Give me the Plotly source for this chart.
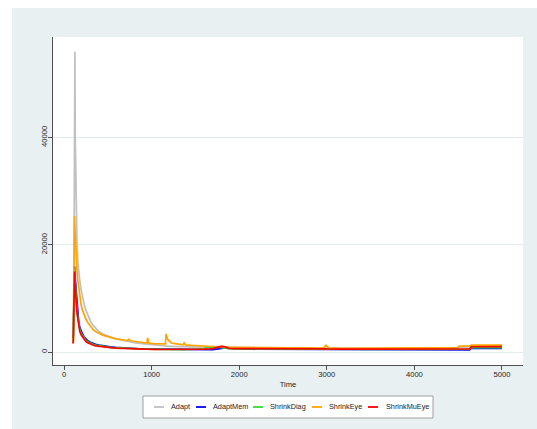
import plotly.graph_objects as go

# Shared time grid (iterations) for all five estimators
TIME = [
    100, 106, 112, 116, 120, 124, 128, 134, 140, 148,
    158, 168, 180, 195, 210, 230, 250, 275, 300, 330,
    360, 400, 440, 480, 530, 590, 650, 720, 740, 760,
    800, 860, 920, 945, 955, 965, 1020, 1080, 1140, 1158,
    1164, 1185, 1230, 1300, 1360, 1372, 1385, 1450, 1520, 1600,
    1650, 1700, 1760, 1800, 1840, 1880, 1950, 2050, 2150, 2250,
    2350, 2450, 2550, 2650, 2750, 2850, 2960, 2990, 3020, 3150,
    3300, 3450, 3600, 3750, 3900, 4050, 4200, 4350, 4490, 4510,
    4630, 4650, 4750, 4850, 4950, 5000,
]

ADAPT = [
    3000, 4000, 8000, 20000, 42000, 56000, 40000, 30000, 25000, 20000,
    16800, 14900, 13200, 11600, 10300, 8900, 7800, 6700, 5800, 5000,
    4400, 3800, 3400, 3100, 2800, 2500, 2250, 1950, 1900, 1850,
    1750, 1620, 1500, 1460, 1450, 1430, 1300, 1200, 1120, 1100,
    1100, 1080, 1050, 1000, 980, 970, 960, 930, 910, 890,
    880, 870, 860, 850, 840, 830, 820, 800, 790, 780,
    770, 760, 750, 740, 730, 720, 720, 720, 710, 700,
    700, 690, 690, 690, 700, 700, 710, 720, 730, 900,
    920, 1050, 1060, 1060, 1070, 1070,
]

ADAPT_MEM = [
    2600, 3200, 9000, 15800, 16000, 14500, 13600, 12600, 11300, 8800,
    7000, 5600, 4600, 3900, 3400, 2800, 2400, 2050, 1800, 1600,
    1420, 1300, 1180, 1080, 980, 880, 790, 700, 690, 670,
    640, 610, 590, 580, 570, 570, 550, 540, 520, 520,
    520, 510, 500, 490, 480, 480, 470, 460, 450, 450,
    440, 460, 500, 650, 750, 700, 560, 520, 510, 500,
    490, 480, 470, 460, 470, 450, 420, 420, 410, 400,
    390, 380, 380, 370, 370, 380, 380, 370, 380, 380,
    390, 680, 690, 680, 690, 690,
]

SHRINK_DIAG = [
    2000, 2500, 8500, 15000, 15500, 13800, 12500, 11200, 10000, 8000,
    6300, 5100, 4200, 3500, 3100, 2550, 2150, 1850, 1600, 1430,
    1280, 1160, 1060, 970, 880, 800, 720, 650, 640, 620,
    600, 570, 550, 540, 540, 530, 510, 500, 490, 490,
    480, 480, 470, 470, 470, 460, 460, 470, 500, 650,
    950, 980, 900, 800, 700, 620, 600, 580, 570, 560,
    560, 550, 550, 540, 540, 530, 530, 530, 520, 510,
    510, 500, 500, 500, 510, 510, 520, 520, 530, 530,
    540, 820, 830, 820, 830, 830,
]

SHRINK_EYE = [
    1800, 2000, 14000, 25000, 25300, 23000, 21000, 19000, 17500, 15200,
    13300, 11800, 10300, 8800, 7800, 6800, 6100, 5400, 4800, 4200,
    3800, 3450, 3150, 2950, 2700, 2450, 2300, 2150, 2350, 2100,
    2000, 1850, 1700, 1650, 2650, 1680, 1560, 1480, 1430, 1500,
    3350, 2300, 1650, 1420, 1330, 1800, 1340, 1250, 1180, 1100,
    1050, 1000, 980, 1050, 930, 880, 860, 840, 830, 800,
    820, 780, 800, 750, 760, 720, 740, 1250, 760, 700,
    720, 680, 700, 690, 720, 740, 760, 760, 800, 1100,
    1120, 1300, 1300, 1280, 1300, 1300,
]

SHRINK_MU_EYE = [
    1600, 1900, 8000, 14500, 15000, 13000, 11500, 10000, 9000, 7300,
    5800, 4700, 3800, 3200, 2800, 2300, 1950, 1700, 1450, 1300,
    1150, 1050, 950, 880, 800, 720, 660, 600, 590, 580,
    560, 540, 520, 510, 520, 500, 480, 470, 460, 470,
    450, 460, 450, 470, 460, 450, 460, 480, 500, 520,
    560, 620, 900, 1050, 950, 680, 640, 620, 600, 590,
    600, 580, 590, 570, 580, 560, 570, 600, 560, 550,
    560, 540, 550, 540, 560, 560, 570, 560, 580, 580,
    590, 980, 1000, 990, 1000, 1000,
]

NAMES = ["Adapt", "AdaptMem", "ShrinkDiag", "ShrinkEye", "ShrinkMuEye"]
SERIES = [ADAPT, ADAPT_MEM, SHRINK_DIAG, SHRINK_EYE, SHRINK_MU_EYE]
COLORS = ["#c0c0c0", "#0000ff", "#33dd33", "#ffa500", "#ff0000"]

X_TICKS = [0, 1000, 2000, 3000, 4000, 5000]
Y_TICKS = [0, 20000, 40000]

W, H = 537, 429
ML, MR, MT, MB = 53, 14, 37, 64
PW, PH = W - ML - MR, H - MT - MB
REGION_BG = "#e8f0f2"


def px_to_paper_x(px):
    return (px - ML) / PW


def py_to_paper_y(py):
    return (H - MB - py) / PH


fig = go.Figure()
for name, vals, col in zip(NAMES, SERIES, COLORS):
    fig.add_trace(go.Scatter(
        x=TIME, y=vals, mode="lines", name=name,
        line=dict(color=col, width=1.7), showlegend=False,
    ))

tick_font = dict(family="Liberation Sans, Arial, sans-serif", size=7.6, color="#222222")
key_font = dict(family="Liberation Sans, Arial, sans-serif", size=7.3, color="#222222")

shapes = [
    # white page edges left of and above the graph region
    dict(type="rect", xref="paper", yref="paper", layer="below",
         x0=px_to_paper_x(-2), x1=px_to_paper_x(12),
         y0=py_to_paper_y(H + 2), y1=py_to_paper_y(-2),
         fillcolor="white", line=dict(width=0)),
    dict(type="rect", xref="paper", yref="paper", layer="below",
         x0=px_to_paper_x(-2), x1=px_to_paper_x(W + 2),
         y0=py_to_paper_y(8), y1=py_to_paper_y(-2),
         fillcolor="white", line=dict(width=0)),
    # legend box
    dict(type="rect", xref="paper", yref="paper", layer="above",
         x0=px_to_paper_x(143), x1=px_to_paper_x(433),
         y0=py_to_paper_y(418), y1=py_to_paper_y(396),
         fillcolor="white", line=dict(color="#a0a0a0", width=1)),
]
annotations = []

# legend keys: line sample followed by label
key_x = [154, 196, 253, 312, 368]
label_x = [169, 210.5, 268, 327, 384]
key_y = py_to_paper_y(407)
for name, col, kx, lx in zip(NAMES, COLORS, key_x, label_x):
    shapes.append(dict(type="line", xref="paper", yref="paper",
                       x0=px_to_paper_x(kx), x1=px_to_paper_x(kx + 10),
                       y0=key_y, y1=key_y, line=dict(color=col, width=1.8)))
    annotations.append(dict(xref="paper", yref="paper", x=px_to_paper_x(lx), y=key_y,
                            text=name, showarrow=False, xanchor="left", yanchor="middle",
                            font=key_font))

fig.update_layout(
    width=W, height=H,
    margin=dict(l=ML, r=MR, t=MT, b=MB),
    paper_bgcolor=REGION_BG, plot_bgcolor="white",
    font=tick_font,
    shapes=shapes, annotations=annotations,
    xaxis=dict(
        range=[-126, 5240], tickvals=X_TICKS, ticktext=[str(v) for v in X_TICKS],
        showgrid=False, zeroline=False, showline=True, linecolor="#505050", linewidth=1,
        ticks="outside", ticklen=4, tickcolor="#505050", tickfont=tick_font,
        ticklabelstandoff=-2,
        title=dict(text="Time", font=tick_font, standoff=3),
    ),
    yaxis=dict(
        range=[-2424, 58741], tickvals=Y_TICKS, ticktext=[str(v) for v in Y_TICKS],
        showgrid=True, gridcolor="#e4ecee", gridwidth=1, zeroline=False,
        showline=True, linecolor="#505050", linewidth=1,
        ticks="outside", ticklen=4, tickcolor="#505050", tickfont=tick_font, tickangle=-90,
        ticklabelstandoff=-2,
    ),
)

fig.write_html("out.html")
